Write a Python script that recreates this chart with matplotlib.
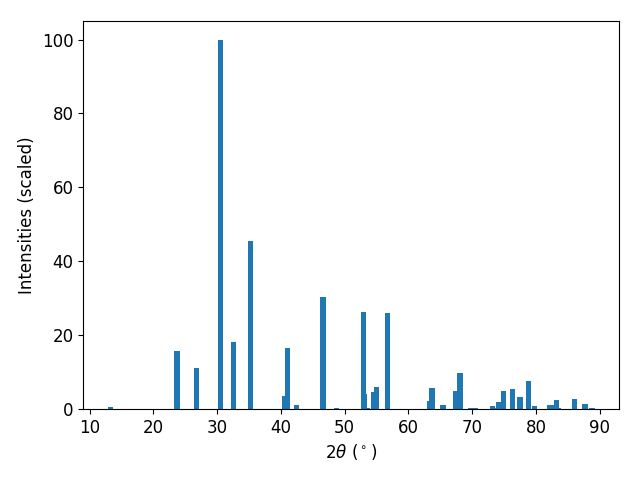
import matplotlib
matplotlib.use("Agg")
import matplotlib.pyplot as plt

# peak positions (2theta, degrees) and scaled intensities
two_theta = [13.2, 23.7, 26.7, 30.5, 32.5, 35.2,
             40.5, 41.0, 42.5, 46.6, 48.7,
             52.9, 53.1, 53.5, 54.5, 55.0, 56.7,
             63.3, 63.7, 65.3, 65.5, 67.4, 68.1, 69.7, 70.5,
             73.2, 73.7, 74.2, 74.9, 76.4, 77.5, 78.9, 79.8,
             82.2, 82.5, 83.3, 83.6, 86.0, 87.7, 88.8]
intensity = [0.5, 15.7, 11.1, 100.0, 18.0, 45.5,
             3.5, 16.5, 1.1, 30.3, 0.35,
             26.3, 4.0, 0.3, 4.6, 6.0, 26.0,
             2.2, 5.7, 1.1, 1.1, 4.9, 9.75, 0.3, 0.3,
             0.8, 0.3, 1.9, 4.9, 5.4, 3.25, 7.6, 0.8,
             1.1, 1.1, 2.4, 0.3, 2.7, 1.4, 0.3]

plt.rcParams.update({"font.size": 12})

fig, ax = plt.subplots(figsize=(6.4, 4.8), dpi=100)
ax.bar(two_theta, intensity, width=0.8, color="#1f77b4")
ax.set_xlabel(r"$2\theta$ ($^\circ$)")
ax.set_ylabel("Intensities (scaled)")
fig.subplots_adjust(left=0.13, right=0.967, top=0.956, bottom=0.148)
fig.savefig("out.png", dpi=100)
